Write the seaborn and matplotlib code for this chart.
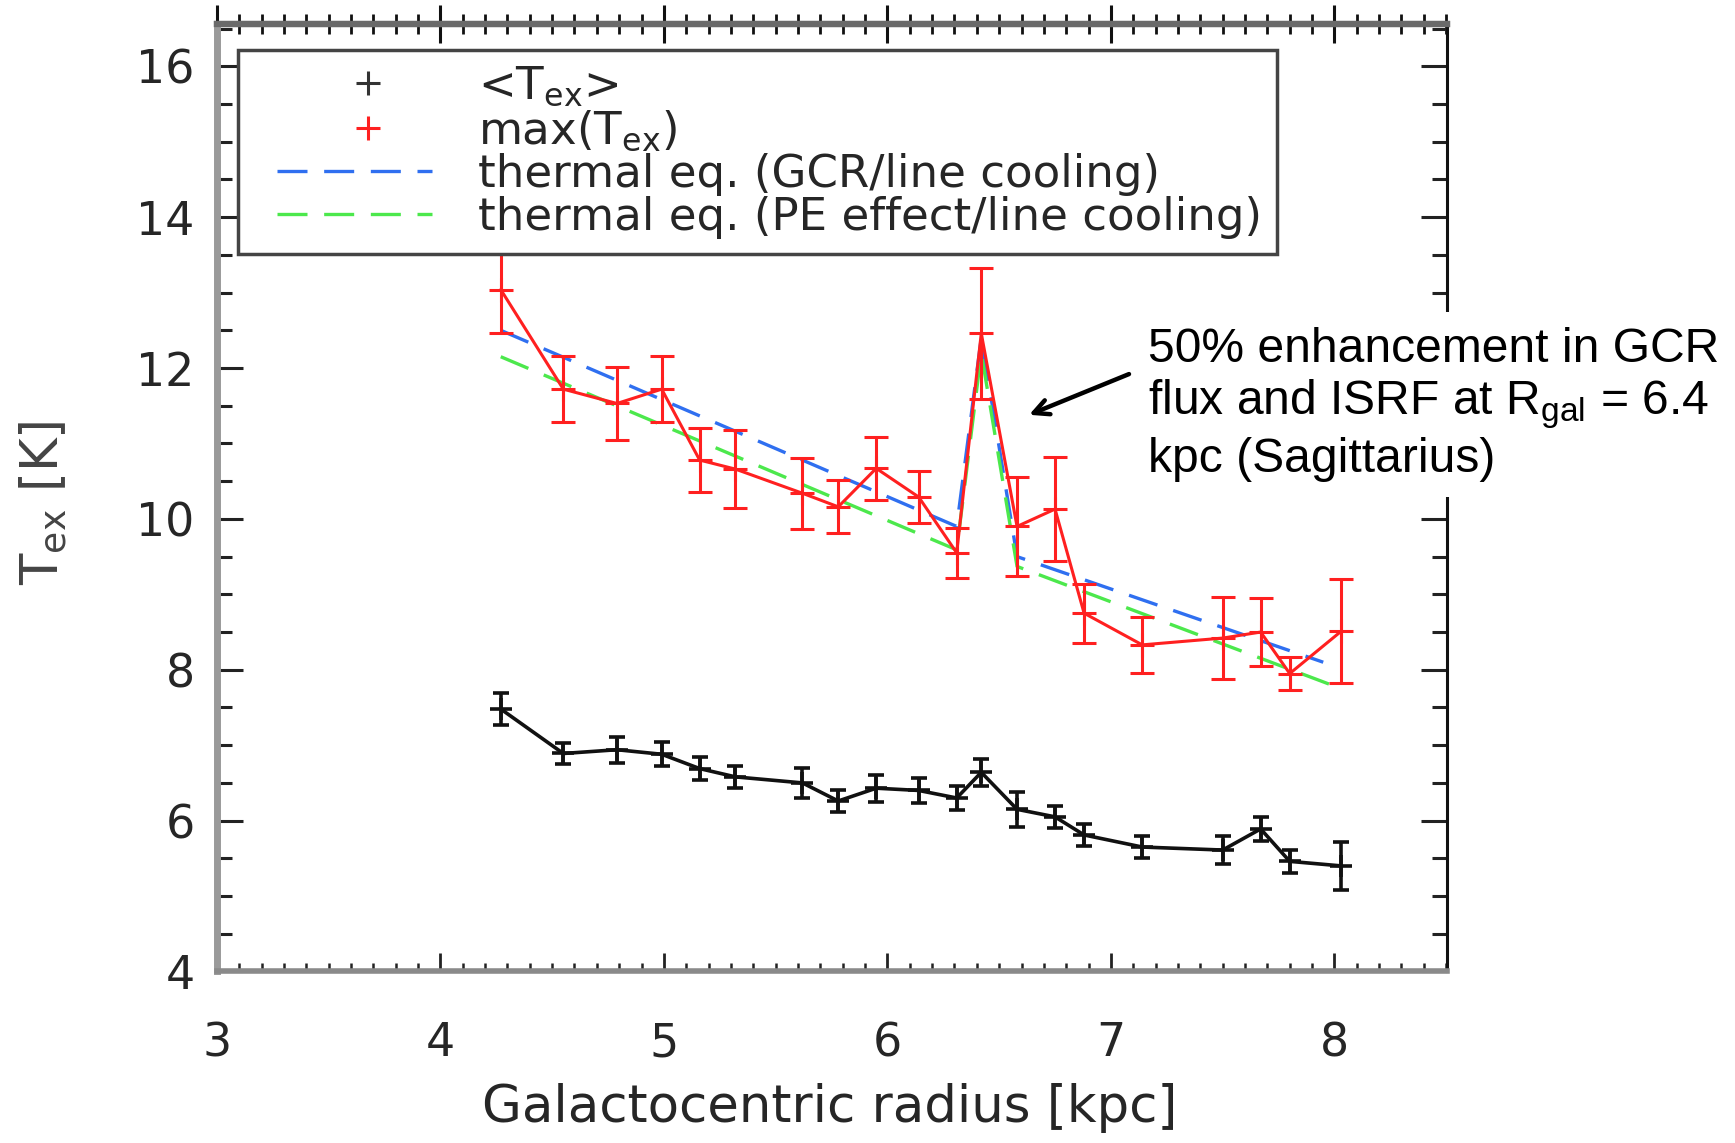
import matplotlib
matplotlib.use("Agg")
import matplotlib.pyplot as plt
import seaborn as sns
import pandas as pd
from matplotlib.lines import Line2D
from matplotlib.legend_handler import HandlerLine2D
from matplotlib.ticker import MultipleLocator, NullFormatter

# ---------------- data ----------------
r_kpc = [4.27, 4.55, 4.79, 4.99, 5.16, 5.32, 5.62, 5.78, 5.95, 6.14,
         6.31, 6.42, 6.58, 6.75, 6.88, 7.14, 7.50, 7.67, 7.80, 8.03]
tex_max = [13.04, 11.72, 11.53, 11.72, 10.78, 10.66, 10.34, 10.16, 10.67, 10.29,
           9.55, 12.46, 9.90, 10.13, 8.75, 8.33, 8.42, 8.50, 7.95, 8.51]
tex_max_err = [0.58, 0.44, 0.49, 0.44, 0.42, 0.52, 0.47, 0.35, 0.42, 0.35,
               0.33, 0.87, 0.66, 0.69, 0.39, 0.37, 0.54, 0.45, 0.22, 0.69]
tex_mean = [7.48, 6.89, 6.94, 6.88, 6.69, 6.58, 6.50, 6.26, 6.43, 6.40,
            6.30, 6.64, 6.15, 6.05, 5.81, 5.65, 5.61, 5.89, 5.46, 5.40]
tex_mean_err = [0.21, 0.14, 0.17, 0.16, 0.15, 0.15, 0.20, 0.14, 0.18, 0.16,
                0.16, 0.18, 0.23, 0.15, 0.15, 0.15, 0.18, 0.16, 0.15, 0.32]
gcr_r = [4.27, 6.31, 6.42, 6.58, 7.95]
gcr_t = [12.50, 9.90, 12.40, 9.50, 8.10]
pe_r = [4.27, 6.31, 6.42, 6.58, 8.03]
pe_t = [12.15, 9.59, 12.20, 9.37, 7.75]

x_ticks = [3, 4, 5, 6, 7, 8]
y_ticks = [4, 6, 8, 10, 12, 14, 16]

legend_labels = [r"<T$_\mathregular{ex}$>", r"max(T$_\mathregular{ex}$)",
                 "thermal eq. (GCR/line cooling)", "thermal eq. (PE effect/line cooling)"]
annot_text = "50% enhancement in GCR\nflux and ISRF at R$_\\mathregular{gal}$ = 6.4\nkpc (Sagittarius)"

# ---------------- style ----------------
sns.set_theme(style="ticks")
plt.rcParams["font.family"] = ["DejaVu Sans"]
plt.rcParams["mathtext.default"] = "regular"

RED = "#ff2020"
BLUE = "#2f6ff0"
GREEN = "#4ce84c"
TXT = "#262626"

fig = plt.figure(figsize=(17.35, 11.43), dpi=100)
ax = fig.add_axes([0.12501, 0.15005, 0.70916, 0.8287])

df_max = pd.DataFrame({"r": r_kpc, "t": tex_max})
df_mean = pd.DataFrame({"r": r_kpc, "t": tex_mean})
df_gcr = pd.DataFrame({"r": gcr_r, "t": gcr_t})
df_pe = pd.DataFrame({"r": pe_r, "t": pe_t})

sns.lineplot(data=df_gcr, x="r", y="t", ax=ax, color=BLUE, lw=2.4, zorder=2)
ax.lines[-1].set_dashes((9, 5))
sns.lineplot(data=df_pe, x="r", y="t", ax=ax, color=GREEN, lw=2.4, zorder=2)
ax.lines[-1].set_dashes((9, 5))

sns.lineplot(data=df_max, x="r", y="t", ax=ax, color=RED, lw=2.2, zorder=3)
ax.errorbar(r_kpc, tex_max, yerr=tex_max_err, fmt="+", color=RED, ms=17, mew=2.2,
            elinewidth=2.2, capsize=8.3, capthick=2.2, zorder=3)

sns.lineplot(data=df_mean, x="r", y="t", ax=ax, color="#111111", lw=2.6, zorder=4)
ax.errorbar(r_kpc, tex_mean, yerr=tex_mean_err, fmt="+", color="#111111", ms=16, mew=2.6,
            elinewidth=2.6, capsize=5.5, capthick=2.6, zorder=4)

ax.set_xlim(3, 8.505)
ax.set_ylim(4, 16.557)
ax.set_xticks(x_ticks)
ax.set_yticks(y_ticks)
ax.xaxis.set_minor_locator(MultipleLocator(0.1))
ax.yaxis.set_minor_locator(MultipleLocator(0.5))

ax.tick_params(axis="x", which="major", direction="in", length=13, width=2.0,
               labelsize=33, pad=36, colors="#222222", labelcolor=TXT, top=False)
ax.tick_params(axis="x", which="minor", direction="in", length=6, width=1.8,
               colors="#222222", top=False)
ax.tick_params(axis="y", which="major", direction="in", length=19, width=2.2,
               labelsize=33, pad=16, colors="#222222", labelcolor=TXT, right=True)
ax.tick_params(axis="y", which="minor", direction="in", length=11, width=2.2,
               colors="#222222", right=True)

# top axis with crossing ticks
sec = ax.secondary_xaxis("top")
sec.set_xticks(x_ticks)
sec.xaxis.set_minor_locator(MultipleLocator(0.1))
sec.xaxis.set_major_formatter(NullFormatter())
sec.tick_params(axis="x", which="major", direction="inout", length=27, width=2.2, colors="#111111")
sec.tick_params(axis="x", which="minor", direction="inout", length=14, width=2.0, colors="#111111")
sec.spines["top"].set_linewidth(4.5)
sec.spines["top"].set_color("#6a6a6a")

for side, col, lw in [("left", "#9a9a9a", 5.0), ("bottom", "#8a8a8a", 4.0),
                      ("top", "#6a6a6a", 4.5), ("right", "#111111", 2.2)]:
    ax.spines[side].set_visible(True)
    ax.spines[side].set_color(col)
    ax.spines[side].set_linewidth(lw)

ax.set_xlabel("Galactocentric radius [kpc]", fontsize=37, color=TXT)
ax.xaxis.set_label_coords(0.498, -0.118)
ax.set_ylabel(r"T$_\mathregular{ex}$ [K]", fontsize=37, color="#444444")
ax.yaxis.set_label_coords(-0.12, 0.4946)

h_mean = Line2D([], [], ls="none", marker="+", color="#333333", ms=17, mew=2.2)
h_max = Line2D([], [], ls="none", marker="+", color=RED, ms=17, mew=2.2)
h_gcr = Line2D([], [], color=BLUE, lw=2.4, dashes=(9, 5))
h_pe = Line2D([], [], color=GREEN, lw=2.4, dashes=(9, 5))
handles = [h_mean, h_max, h_gcr, h_pe]
hmap = {h_mean: HandlerLine2D(xpad=1.14), h_max: HandlerLine2D(xpad=1.14),
        h_gcr: HandlerLine2D(xpad=0.53), h_pe: HandlerLine2D(xpad=0.53)}
leg = ax.legend(handles, legend_labels, handler_map=hmap, loc="upper left",
                bbox_to_anchor=(0.0171, 0.973),
                fontsize=32.5, frameon=True, fancybox=False, framealpha=1,
                edgecolor="#444444", handlelength=3.96, handletextpad=1.03,
                labelspacing=0.0, borderpad=0.33, borderaxespad=0)
leg.get_frame().set_linewidth(2.5)
for t in leg.get_texts():
    t.set_color(TXT)
leg.set_zorder(10)

# annotation
fig.text(1148 / 1735, 1 - 327 / 1143, annot_text, fontsize=34.6, family="Liberation Sans",
         color="black", ha="left", va="top", linespacing=1.15, zorder=20,
         bbox=dict(facecolor="white", edgecolor="none", pad=11))
ax.annotate("", xy=(6.634, 11.38), xytext=(7.081, 11.92),
            arrowprops=dict(arrowstyle="->,head_length=0.9,head_width=0.45", color="black",
                            lw=3.2, shrinkA=0, shrinkB=0),
            annotation_clip=False, zorder=20)

fig.savefig("out.png", dpi=100)
